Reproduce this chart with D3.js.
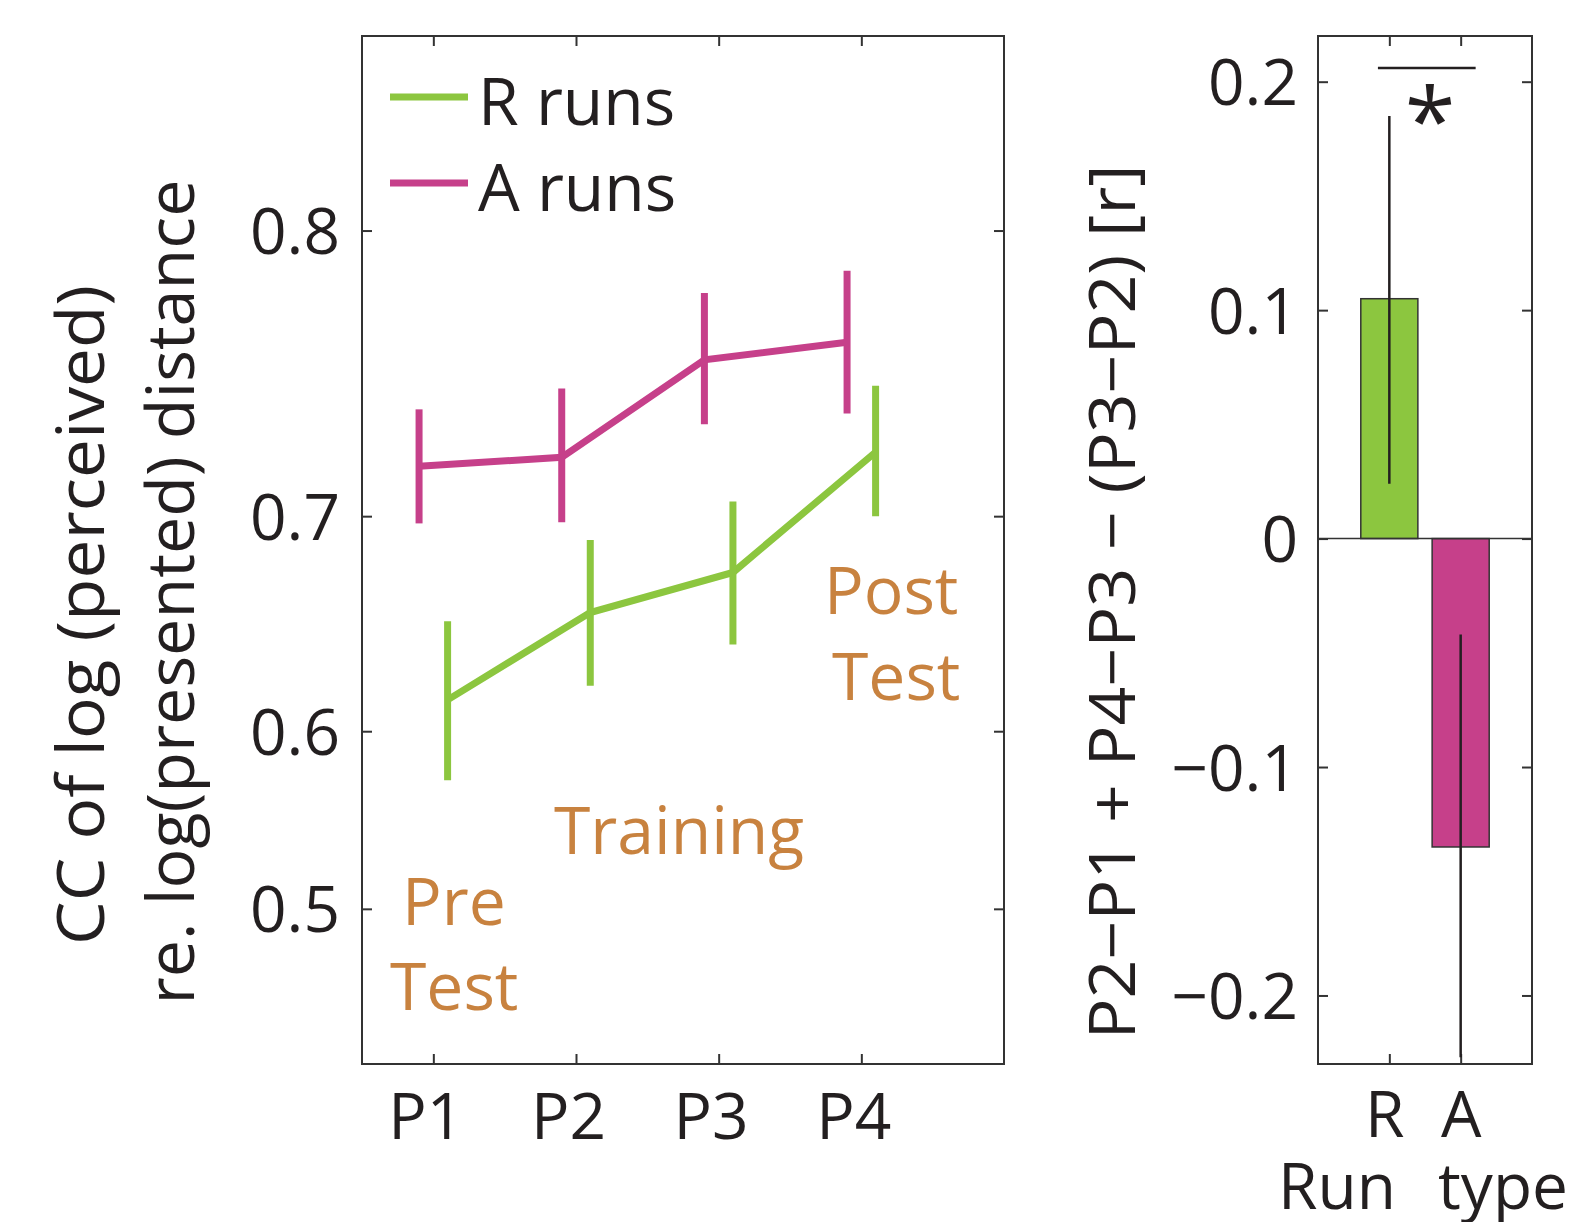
<!DOCTYPE html>
<html>
<head>
<meta charset="utf-8">
<script src="https://cdn.jsdelivr.net/npm/d3@7"></script>
<style>
  body { margin: 0; background: #fff; }
  text { font-family: "Open Sans", "Noto Sans", sans-serif; fill: #231f20; }
</style>
</head>
<body>
<div id="chart"></div>
<script>
// periods and the two run types
var periods = ["P1", "P2", "P3", "P4"];
var rMean = [0.616, 0.658, 0.676, 0.7255];
var rLow  = [0.574, 0.623, 0.643, 0.700];
var rHigh = [0.654, 0.690, 0.706, 0.750];
var aMean = [0.720, 0.7235, 0.759, 0.765];
var aLow  = [0.697, 0.6975, 0.736, 0.740];
var aHigh = [0.7415, 0.749, 0.781, 0.788];
var leftTicks = [0.5, 0.6, 0.7, 0.8];

// right panel: difference of differences
var runTypes = ["R", "A"];
var diffVal  = [0.105, -0.135];
var diffLow  = [0.024, -0.227];
var diffHigh = [0.185, -0.042];
var rightTicks = [-0.2, -0.1, 0, 0.1, 0.2];

var green = "#8cc63f";
var pink = "#c6408a";
var orange = "#c8823f";
var ink = "#231f20";

var svg = d3.select("#chart").append("svg")
    .attr("width", 1569)
    .attr("height", 1222);

//---------- left panel ----------
var L = {x0: 362, x1: 1004, y0: 36, y1: 1064};

var x = d3.scaleLinear().domain([0.5, 5]).range([L.x0, L.x1]);
// y is on a Fisher z (atanh) scale
var yz = d3.scaleLinear().domain([Math.atanh(0.4), Math.atanh(0.85)]).range([L.y1, L.y0]);
var y = function(r) { return yz(Math.atanh(r)); };

var left = svg.append("g");

var fmt = d3.format(".1f");
var zTicks = leftTicks.map(Math.atanh);

left.append("g")
    .attr("transform", `translate(${L.x0},0)`)
    .call(d3.axisLeft(yz).tickValues(zTicks).tickSize(-10).tickPadding(22)
        .tickFormat(function(d) { return fmt(Math.tanh(d)); }))
    .call(styleAxis)
    .selectAll("text").attr("dy", "0.36em");

left.append("g")
    .attr("transform", `translate(${L.x1},0)`)
    .call(d3.axisRight(yz).tickValues(zTicks).tickSize(-10).tickFormat(""))
    .call(styleAxis);

left.append("g")
    .attr("transform", `translate(0,${L.y1})`)
    .call(d3.axisBottom(x).tickValues([1, 2, 3, 4]).tickSize(-10).tickPadding(30)
        .tickFormat(function(d) { return periods[d - 1]; }))
    .call(styleAxis)
    .selectAll("text").attr("dy", "0.71em").attr("dx", "-8");

left.append("g")
    .attr("transform", `translate(0,${L.y0})`)
    .call(d3.axisTop(x).tickValues([1, 2, 3, 4]).tickSize(-10).tickFormat(""))
    .call(styleAxis);

left.append("rect")
    .attr("x", L.x0).attr("y", L.y0)
    .attr("width", L.x1 - L.x0).attr("height", L.y1 - L.y0)
    .attr("fill", "none").attr("stroke", "#333").attr("stroke-width", 2);

function styleAxis(g) {
    g.select(".domain").remove();
    g.selectAll(".tick line").attr("stroke", "#333").attr("stroke-width", 2);
    g.selectAll("text")
        .attr("font-size", 64)
        .attr("fill", ink)
        .style("font-family", "'Open Sans', sans-serif");
}

function drawSeries(mean, low, high, offset, color) {
    var pts = mean.map(function(m, i) {
        return {p: i + 1 + offset, m: m, lo: low[i], hi: high[i]};
    });
    var line = d3.line().x(d => x(d.p)).y(d => y(d.m));
    left.append("path")
        .datum(pts)
        .attr("d", line)
        .attr("fill", "none")
        .attr("stroke", color)
        .attr("stroke-width", 7);
    left.selectAll(null)
        .data(pts)
        .enter()
        .append("line")
        .attr("x1", d => x(d.p)).attr("x2", d => x(d.p))
        .attr("y1", d => y(d.lo)).attr("y2", d => y(d.hi))
        .attr("stroke", color)
        .attr("stroke-width", 7);
}

drawSeries(aMean, aLow, aHigh, -0.1, pink);
drawSeries(rMean, rLow, rHigh, 0.1, green);

// legend
var legend = [{name: "R runs", color: green, y: 97}, {name: "A runs", color: pink, y: 183}];
legend.forEach(function(d) {
    left.append("line")
        .attr("x1", 390).attr("x2", 468)
        .attr("y1", d.y).attr("y2", d.y)
        .attr("stroke", d.color).attr("stroke-width", 7);
    left.append("text")
        .attr("x", 478).attr("y", d.y + 28)
        .attr("font-size", 66)
        .text(d.name);
});

// phase annotations
var notes = [
    {t: "Pre", x: 402, y: 925},
    {t: "Test", x: 390, y: 1010},
    {t: "Training", x: 554, y: 854},
    {t: "Post", x: 824, y: 614},
    {t: "Test", x: 832, y: 700}
];
left.selectAll(null)
    .data(notes)
    .enter()
    .append("text")
    .attr("x", d => d.x).attr("y", d => d.y)
    .attr("font-size", 66)
    .style("fill", orange)
    .text(d => d.t);

// y label, two lines, rotated
svg.append("text")
    .attr("transform", "translate(104,615) rotate(-90)")
    .attr("text-anchor", "middle")
    .attr("font-size", 66)
    .attr("textLength", 660)
    .attr("lengthAdjust", "spacingAndGlyphs")
    .text("CC of log (perceived)");
svg.append("text")
    .attr("transform", "translate(194,592) rotate(-90)")
    .attr("text-anchor", "middle")
    .attr("font-size", 66)
    .attr("textLength", 825)
    .attr("lengthAdjust", "spacingAndGlyphs")
    .text("re. log(presented) distance");

//---------- right panel ----------
var R = {x0: 1318, x1: 1532, y0: 36, y1: 1064};
var xr = d3.scaleLinear().domain([0, 3]).range([R.x0, R.x1]);
var yr = d3.scaleLinear().domain([-0.23, 0.22]).range([R.y1, R.y0]);
var right = svg.append("g");

var rfmt = function(d) { return d === 0 ? "0" : d3.format(".1f")(d).replace("-", "\u2212"); };

right.append("g")
    .attr("transform", `translate(${R.x0},0)`)
    .call(d3.axisLeft(yr).tickValues(rightTicks).tickSize(-10).tickPadding(20).tickFormat(rfmt))
    .call(styleAxis)
    .selectAll("text").attr("dy", "0.36em");

right.append("g")
    .attr("transform", `translate(${R.x1},0)`)
    .call(d3.axisRight(yr).tickValues(rightTicks).tickSize(-10).tickFormat(""))
    .call(styleAxis);

right.append("g")
    .attr("transform", `translate(0,${R.y1})`)
    .call(d3.axisBottom(xr).tickValues([1, 2]).tickSize(-10).tickPadding(28)
        .tickFormat(function(d) { return runTypes[d - 1]; }))
    .call(styleAxis)
    .selectAll("text").attr("dy", "0.71em").attr("dx", function(d) { return d === 1 ? -5 : 0; });

right.append("g")
    .attr("transform", `translate(0,${R.y0})`)
    .call(d3.axisTop(xr).tickValues([1, 2]).tickSize(-10).tickFormat(""))
    .call(styleAxis);

var bars = runTypes.map(function(t, i) {
    return {i: i + 1, v: diffVal[i], lo: diffLow[i], hi: diffHigh[i], color: i === 0 ? green : pink};
});

right.selectAll(".bar")
    .data(bars)
    .enter()
    .append("rect")
    .attr("class", "bar")
    .attr("x", d => xr(d.i - 0.4))
    .attr("width", d => xr(d.i + 0.4) - xr(d.i - 0.4))
    .attr("y", d => yr(Math.max(0, d.v)))
    .attr("height", d => Math.abs(yr(d.v) - yr(0)))
    .attr("fill", d => d.color)
    .attr("stroke", "#333")
    .attr("stroke-width", 1.5);

// zero line
right.append("line")
    .attr("x1", R.x0).attr("x2", R.x1)
    .attr("y1", yr(0)).attr("y2", yr(0))
    .attr("stroke", "#333").attr("stroke-width", 1.5);

right.selectAll(".err")
    .data(bars)
    .enter()
    .append("line")
    .attr("class", "err")
    .attr("x1", d => xr(d.i)).attr("x2", d => xr(d.i))
    .attr("y1", d => yr(d.lo)).attr("y2", d => yr(d.hi))
    .attr("stroke", ink)
    .attr("stroke-width", 2.5);

right.append("rect")
    .attr("x", R.x0).attr("y", R.y0)
    .attr("width", R.x1 - R.x0).attr("height", R.y1 - R.y0)
    .attr("fill", "none").attr("stroke", "#333").attr("stroke-width", 2);

// significance marker
var sigSpan = [0.84, 2.21];
var sigLevel = 0.206;
right.append("line")
    .attr("x1", xr(sigSpan[0])).attr("x2", xr(sigSpan[1]))
    .attr("y1", yr(sigLevel)).attr("y2", yr(sigLevel))
    .attr("stroke", ink).attr("stroke-width", 2.5);
right.append("text")
    .attr("x", xr(1.57)).attr("y", yr(sigLevel) + 86)
    .attr("text-anchor", "middle")
    .attr("font-size", 92)
    .text("*");

// axis titles
svg.append("text")
    .attr("x", 1396).attr("y", 1209)
    .attr("text-anchor", "end")
    .attr("font-size", 64)
    .text("Run");
svg.append("text")
    .attr("x", 1438).attr("y", 1209)
    .attr("font-size", 64)
    .text("type");

svg.append("text")
    .attr("transform", "translate(1135,602) rotate(-90)")
    .attr("text-anchor", "middle")
    .attr("font-size", 64)
    .attr("textLength", 875)
    .attr("lengthAdjust", "spacingAndGlyphs")
    .text("P2\u2212P1 + P4\u2212P3 \u2212 (P3\u2212P2) [r]");
</script>
</body>
</html>
